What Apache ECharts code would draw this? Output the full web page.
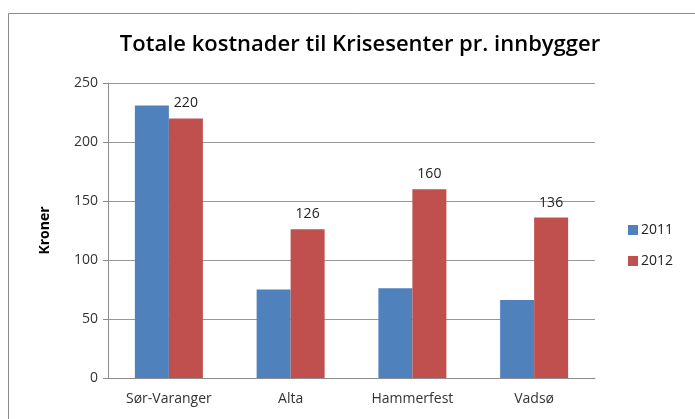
<!DOCTYPE html>
<html>
<head>
<meta charset="utf-8">
<script src="https://cdn.jsdelivr.net/npm/echarts@6/dist/echarts.min.js"></script>
<style>
  html, body { margin: 0; padding: 0; background: #fff; }
  #chart { width: 695px; height: 419px; }
</style>
</head>
<body>
<div id="chart"></div>
<script>
// data
const steder = ['Sør-Varanger', 'Alta', 'Hammerfest', 'Vadsø'];
const aar2011 = [231, 75, 76, 66];
const aar2012 = [220, 126, 160, 136];
const yTicks = [0, 50, 100, 150, 200, 250];

const chart = echarts.init(document.getElementById('chart'));
const font = '"Open Sans", "Liberation Sans", sans-serif';

chart.setOption({
  animation: false,
  color: ['#4f81bd', '#c0504d'],
  textStyle: { fontFamily: font },
  title: {
    text: 'Totale kostnader til Krisesenter pr. innbygger',
    left: 355, top: 29, textAlign: 'center',
    textStyle: { fontSize: 22, fontWeight: 600, color: '#000', fontFamily: font }
  },
  // outer chart border
  graphic: [{
    type: 'rect', shape: { x: 8.5, y: 13.5, width: 700, height: 420 },
    style: { fill: 'none', stroke: '#8c8c8c', lineWidth: 1 }
  }],
  legend: {
    orient: 'vertical', left: 623, top: 218, itemGap: 17,
    itemWidth: 10, itemHeight: 10, icon: 'rect',
    textStyle: { fontSize: 14, color: '#222', padding: [0, 0, 0, -2] },
    data: ['2011', '2012']
  },
  grid: { left: 108, top: 83, width: 487, height: 295 },
  xAxis: {
    type: 'category', data: steder,
    axisLine: { lineStyle: { color: '#8c8c8c' } },
    axisTick: { show: false },
    axisLabel: { fontSize: 14, color: '#333', margin: 14 }
  },
  yAxis: {
    type: 'value', min: yTicks[0], max: yTicks[yTicks.length - 1], interval: 50,
    name: 'Kroner', nameLocation: 'middle', nameGap: 56, nameRotate: 90,
    nameTextStyle: { fontSize: 14, fontWeight: 'bold', color: '#000' },
    axisLine: { show: true, lineStyle: { color: '#8c8c8c' } },
    axisTick: { show: true, length: 5, lineStyle: { color: '#8c8c8c' } },
    axisLabel: { fontSize: 14, color: '#333', margin: 10 },
    splitLine: { lineStyle: { color: '#999' } }
  },
  series: [
    { name: '2011', type: 'bar', data: aar2011, barWidth: 34, barGap: '0%' },
    {
      name: '2012', type: 'bar', data: aar2012, barWidth: 34,
      label: { show: true, position: 'top', distance: 8, fontSize: 14, color: '#222' }
    }
  ]
});
</script>
</body>
</html>
